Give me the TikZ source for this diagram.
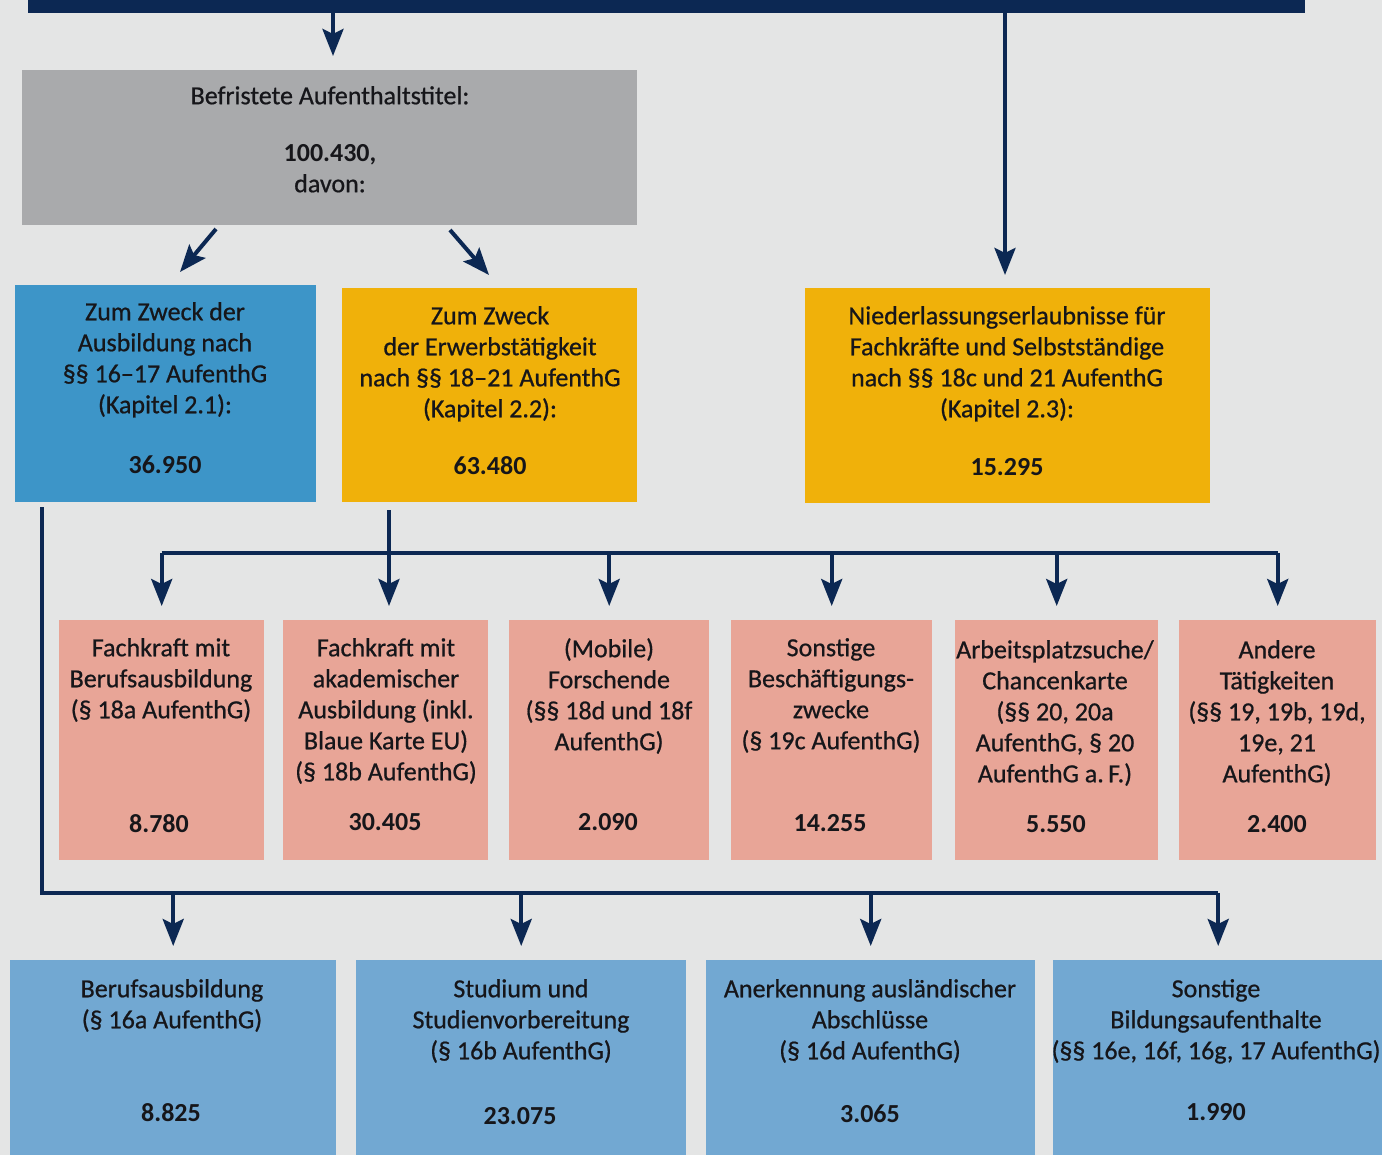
\documentclass[tikz,border=0pt]{standalone}
\usepackage{fontspec}
\setmainfont{Carlito}[UprightFeatures={FakeBold=0.7}]
\usetikzlibrary{arrows.meta}
\definecolor{bgc}{HTML}{E4E5E5}
\definecolor{navy}{HTML}{0C2853}
\definecolor{grayc}{HTML}{A9AAAC}
\definecolor{blued}{HTML}{3D95C8}
\definecolor{orangec}{HTML}{F0B10A}
\definecolor{pinkc}{HTML}{E8A597}
\definecolor{bluel}{HTML}{72A8D2}
\definecolor{txtc}{HTML}{16161A}
\tikzset{
  box/.style={rectangle, inner sep=0pt, draw=none, anchor=north west},
  txt/.style={inner sep=0pt, anchor=north, align=center, text=txtc,
     font=\fontsize{26}{31}\selectfont},
  num/.style={inner sep=0pt, anchor=center, text=txtc,
     font=\fontsize{26}{31}\selectfont\bfseries},
  line/.style={draw=navy, line width=4pt},
  arr/.style={draw=navy, line width=4pt, -{Stealth[length=27pt,width=21pt,inset=5pt]}},
}
\begin{document}
\begin{tikzpicture}[x=1pt,y=-1pt]
\fill[bgc] (0,0) rectangle (1382,1155);
\useasboundingbox (0,0) rectangle (1382,1155);

% top bar
\node[box, fill=navy, minimum width=1277, minimum height=14] (topbar) at (28,-1) {};

% gray box
\node[box, fill=grayc, minimum width=615, minimum height=155] (gray) at (22,70) {};
\node[txt] (grayT) at (330,86) {Befristete Aufenthaltstitel:};
\node[txt] (grayN) at (330,144) {\bfseries 100.430,\\davon:};

% level 2
\node[box, fill=blued, minimum width=301, minimum height=217] (ausb) at (15,285) {};
\node[txt] (ausbT) at (165,302) {Zum Zweck der\\Ausbildung nach\\§§ 16–17 AufenthG\\(Kapitel 2.1):};
\node[num] (ausbN) at (165,465) {36.950};

\node[box, fill=orangec, minimum width=295, minimum height=214] (erw) at (342,288) {};
\node[txt] (erwT) at (490,306) {Zum Zweck\\der Erwerbstätigkeit\\nach §§ 18–21 AufenthG\\(Kapitel 2.2):};
\node[num] (erwN) at (490,466) {63.480};

\node[box, fill=orangec, minimum width=405, minimum height=215] (nied) at (805,288) {};
\node[txt] (niedT) at (1007,306) {Niederlassungserlaubnisse für\\Fachkräfte und Selbstständige\\nach §§ 18c und 21 AufenthG\\(Kapitel 2.3):};
\node[num] (niedN) at (1007,467) {15.295};

% pink row
\node[box, fill=pinkc, minimum width=205, minimum height=240] (p1) at (59,620) {};
\node[txt] (p1T) at (161,638) {Fachkraft mit\\Berufsausbildung\\(§ 18a AufenthG)};
\node[num] (p1N) at (159,824) {8.780};

\node[box, fill=pinkc, minimum width=205, minimum height=240] (p2) at (283,620) {};
\node[txt] (p2T) at (386,638) {Fachkraft mit\\akademischer\\Ausbildung (inkl.\\Blaue Karte EU)\\(§ 18b AufenthG)};
\node[num] (p2N) at (385,822) {30.405};

\node[box, fill=pinkc, minimum width=200, minimum height=240] (p3) at (509,620) {};
\node[txt] (p3T) at (609,638) {(Mobile)\\Forschende\\(§§ 18d und 18f\\AufenthG)};
\node[num] (p3N) at (608,822) {2.090};

\node[box, fill=pinkc, minimum width=201, minimum height=240] (p4) at (731,620) {};
\node[txt] (p4T) at (831,638) {Sonstige\\Beschäftigungs-\\zwecke\\(§ 19c AufenthG)};
\node[num] (p4N) at (830,823) {14.255};

\node[box, fill=pinkc, minimum width=203, minimum height=240] (p5) at (955,620) {};
\node[txt] (p5T) at (1055,640) {Arbeitsplatzsuche/\\Chancenkarte\\(§§ 20, 20a\\AufenthG, § 20\\AufenthG a.\,F.)};
\node[num] (p5N) at (1056,824) {5.550};

\node[box, fill=pinkc, minimum width=197, minimum height=240] (p6) at (1179,620) {};
\node[txt] (p6T) at (1277,640) {Andere\\Tätigkeiten\\(§§ 19, 19b, 19d,\\19e, 21\\AufenthG)};
\node[num] (p6N) at (1277,824) {2.400};

% light blue row
\node[box, fill=bluel, minimum width=326, minimum height=200] (b1) at (10,960) {};
\node[txt] (b1T) at (172,979) {Berufsausbildung\\(§ 16a AufenthG)};
\node[num] (b1N) at (171,1113) {8.825};

\node[box, fill=bluel, minimum width=330, minimum height=200] (b2) at (356,960) {};
\node[txt] (b2T) at (521,979) {Studium und\\Studienvorbereitung\\(§ 16b AufenthG)};
\node[num] (b2N) at (520,1116) {23.075};

\node[box, fill=bluel, minimum width=329, minimum height=200] (b3) at (706,960) {};
\node[txt] (b3T) at (870,979) {Anerkennung ausländischer\\Abschlüsse\\(§ 16d AufenthG)};
\node[num] (b3N) at (870,1114) {3.065};

\node[box, fill=bluel, minimum width=330, minimum height=200] (b4) at (1053,960) {};
\node[txt] (b4T) at (1216,979) {Sonstige\\Bildungsaufenthalte\\(§§ 16e, 16f, 16g, 17 AufenthG)};
\node[num] (b4N) at (1216,1112) {1.990};

% connectors
\coordinate (topL) at (333,12);
\draw[arr, shorten >=14pt] (topL) -- (gray.north -| topL);
\coordinate (topR) at (1005,12);
\draw[arr, shorten >=13pt] (topR) -- (nied.north -| topR);

\coordinate (dL1) at (216,229);
\coordinate (dL2) at (180,272);
\draw[arr] (dL1) -- (dL2);
\coordinate (dR1) at (450,230);
\coordinate (dR2) at (489,275);
\draw[arr] (dR1) -- (dR2);

% branch to pink row
\coordinate (bar) at (0,553);
\coordinate (vx) at (389,0);
\draw[arr, shorten <=8pt, shorten >=14pt] (erw.south -| vx) -- (p2.north -| vx);
\draw[line] (p1.north |- bar) -- (p6.north |- bar);
\foreach \n in {p1,p3,p4,p5,p6}
  \draw[arr, shorten >=14pt] (\n.north |- bar) -- (\n.north);

% branch to light blue row
\coordinate (lx) at (42,507);
\coordinate (bar2) at (0,893);
\draw[line] (lx) |- (b4.north |- bar2);
\foreach \n in {b1,b2,b3,b4}
  \draw[arr, shorten >=14pt] (\n.north |- bar2) -- (\n.north);
\end{tikzpicture}
\end{document}
